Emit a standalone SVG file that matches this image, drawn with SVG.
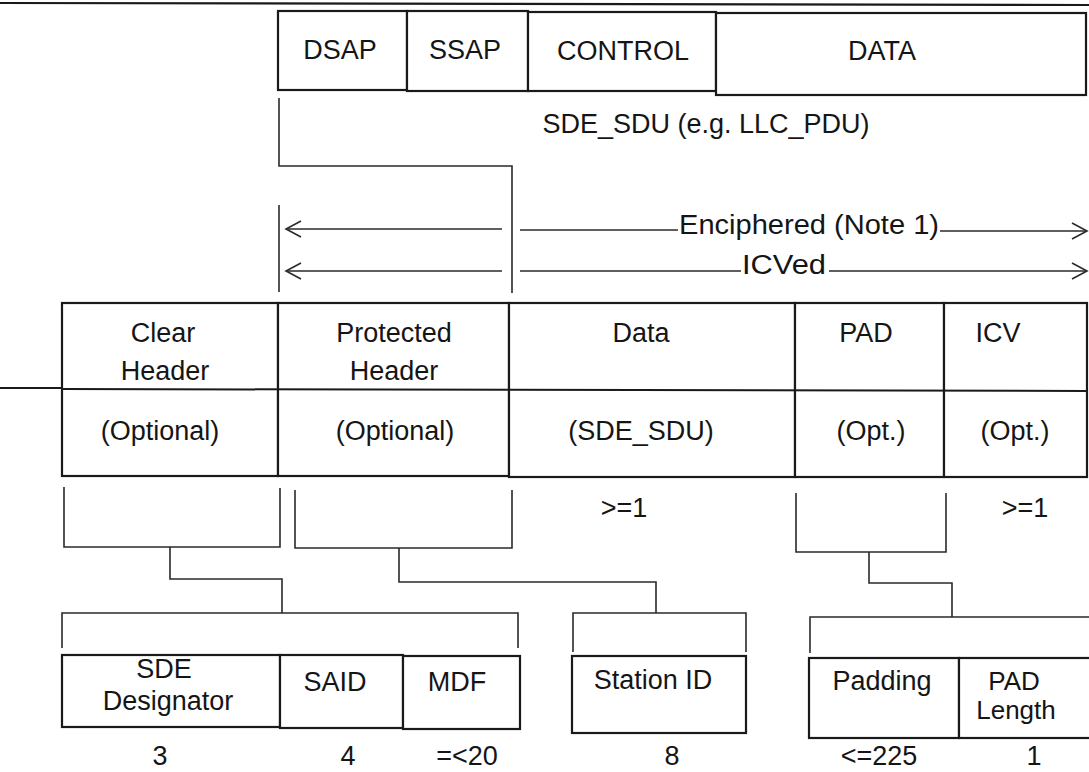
<svg xmlns="http://www.w3.org/2000/svg" width="1089" height="772" viewBox="0 0 1089 772">
<style>
  .box { fill: #fff; stroke: #1a1a1a; stroke-width: 2.2; }
  .ln { fill: none; stroke: #2a2a2a; stroke-width: 1.6; }
  .t { font-family: "Liberation Sans", Arial, sans-serif; font-size: 27px; fill: #151515; text-anchor: middle; }
  .s { font-size: 26px; }
</style>
<defs>
  <marker id="arr" markerWidth="18" markerHeight="18" refX="16" refY="9" orient="auto-start-reverse" markerUnits="userSpaceOnUse">
    <path d="M1 1 L16 9 L1 17" fill="none" stroke="#2a2a2a" stroke-width="1.6"/>
  </marker>
</defs>
<rect width="1089" height="772" fill="#fff"/>
<line x1="0" y1="3" x2="1089" y2="5" stroke="#1a1a1a" stroke-width="2.2"/>

<g id="llc-pdu">
  <rect class="box" x="278" y="11" width="129" height="79"/>
  <rect class="box" x="407" y="11" width="121" height="80"/>
  <rect class="box" x="528" y="12" width="188" height="79"/>
  <rect class="box" x="716" y="13" width="370" height="82"/>
  <text class="t" x="340" y="59">DSAP</text>
  <text class="t" x="465" y="59">SSAP</text>
  <text class="t" x="623" y="60">CONTROL</text>
  <text class="t" x="882" y="60">DATA</text>
  <text class="t" x="706" y="133">SDE_SDU (e.g. LLC_PDU)</text>
</g>

<g id="coverage">
  <text class="t" x="809" y="234" textLength="260" lengthAdjust="spacingAndGlyphs">Enciphered  (Note 1)</text>
  <text class="t" x="784" y="274" textLength="84" lengthAdjust="spacingAndGlyphs">ICVed</text>
</g>

<g id="sde-pdu">
  <rect class="box" x="62" y="303" width="216" height="173"/>
  <rect class="box" x="278" y="303" width="231" height="173"/>
  <rect class="box" x="509" y="303" width="286" height="174"/>
  <rect class="box" x="795" y="303" width="149" height="174"/>
  <rect class="box" x="944" y="303" width="143" height="174"/>
  <line x1="62" y1="389" x2="1087" y2="391" stroke="#1a1a1a" stroke-width="2"/>
  <line x1="0" y1="388" x2="62" y2="388" stroke="#1a1a1a" stroke-width="1.8"/>
  <text class="t" x="163" y="342">Clear</text>
  <text class="t" x="165" y="380">Header</text>
  <text class="t" x="160" y="440">(Optional)</text>
  <text class="t" x="394" y="342">Protected</text>
  <text class="t" x="394" y="380">Header</text>
  <text class="t" x="395" y="440">(Optional)</text>
  <text class="t" x="641" y="342">Data</text>
  <text class="t" x="641" y="440">(SDE_SDU)</text>
  <text class="t" x="866" y="342">PAD</text>
  <text class="t" x="871" y="440">(Opt.)</text>
  <text class="t" x="998" y="342">ICV</text>
  <text class="t" x="1015" y="440">(Opt.)</text>
  <text class="t" x="624" y="517">&gt;=1</text>
  <text class="t" x="1025" y="517">&gt;=1</text>
</g>

<g id="clear-header-fields">
  <rect class="box" x="62" y="655" width="218" height="72"/>
  <rect class="box" x="280" y="655" width="123" height="73"/>
  <rect class="box" x="403" y="656" width="117" height="73"/>
  <text class="t" x="164" y="678">SDE</text>
  <text class="t" x="168" y="710">Designator</text>
  <text class="t" x="335" y="691">SAID</text>
  <text class="t" x="457" y="691">MDF</text>
  <text class="t" x="160" y="765">3</text>
  <text class="t" x="348" y="765">4</text>
  <text class="t" x="467" y="765">=&lt;20</text>
</g>

<g id="protected-header-fields">
  <rect class="box" x="572" y="656" width="174" height="77"/>
  <text class="t" x="653" y="689">Station ID</text>
  <text class="t" x="672" y="765">8</text>
</g>

<g id="pad-fields">
  <rect class="box" x="809" y="658" width="150" height="80"/>
  <rect class="box" x="959" y="658" width="140" height="80"/>
  <text class="t" x="882" y="690">Padding</text>
  <text class="t s" x="1014" y="690">PAD</text>
  <text class="t s" x="1016" y="719">Length</text>
  <text class="t" x="879" y="765">&lt;=225</text>
  <text class="t" x="1034" y="765">1</text>
</g>

<g id="connectors">
  <path class="ln" d="M279 98 V166 H512 V293"/>
  <path class="ln" d="M279 205 V292"/>
  <line class="ln" x1="502" y1="229" x2="286" y2="229" marker-end="url(#arr)"/>
  <line class="ln" x1="520" y1="230" x2="678" y2="230"/>
  <line class="ln" x1="940" y1="231" x2="1087" y2="231" marker-end="url(#arr)"/>
  <line class="ln" x1="502" y1="271" x2="286" y2="271" marker-end="url(#arr)"/>
  <line class="ln" x1="520" y1="271" x2="741" y2="271"/>
  <line class="ln" x1="829" y1="271" x2="1087" y2="271" marker-end="url(#arr)"/>
  <path class="ln" d="M64 487 V547 H280 V488"/>
  <path class="ln" d="M170 547 V579 H282 V613"/>
  <path class="ln" d="M295 490 V548 H512 V490"/>
  <path class="ln" d="M399 548 V582 H656 V613"/>
  <path class="ln" d="M796 493 V552 H946 V493"/>
  <path class="ln" d="M869 552 V583 H952 V617"/>
  <path class="ln" d="M62 648 V613 H518 V648"/>
  <path class="ln" d="M573 652 V613 H746 V652"/>
  <path class="ln" d="M810 653 V617 H1089"/>
</g>
</svg>
